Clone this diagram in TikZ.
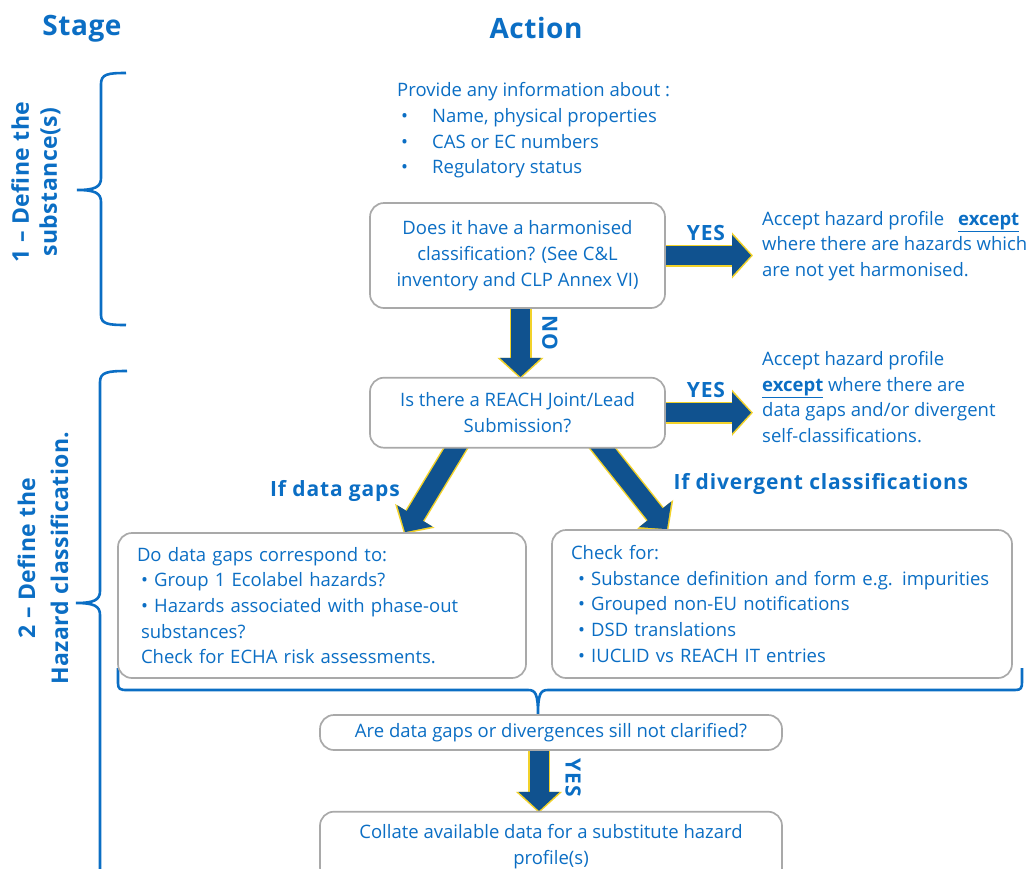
\documentclass[tikz,border=0pt]{standalone}
\usepackage{fontspec}
\setmainfont{Open Sans}
\usepackage{tikz}
\usepackage{xcolor}
\usetikzlibrary{arrows.meta}
\usetikzlibrary{positioning}
\usetikzlibrary{calc}
\usetikzlibrary{backgrounds}
\definecolor{EU Blue}{HTML}{0B6EC4}
\definecolor{Arrow Blue}{HTML}{10528F}
\definecolor{Arrow Yellow}{HTML}{F2D22A}
\definecolor{Box Gray}{HTML}{A9A9A9}

\tikzset{
    body/.style={font=\fontsize{18.5}{25.7}\selectfont, text=EU Blue},
    qbox/.style={body, draw=Box Gray, line width=1.7pt, rounded corners=14pt, fill=white, align=center},
    listbox/.style={qbox, align=left, inner xsep=19pt},
    tag/.style={font=\bfseries\fontsize{21}{24}\selectfont\addfontfeatures{LetterSpace=4}, text=EU Blue},
    head/.style={font=\bfseries\fontsize{28}{32}\selectfont\addfontfeatures{LetterSpace=2}, text=EU Blue},
    stagetext/.style={font=\bfseries\fontsize{23}{28}\selectfont\addfontfeatures{LetterSpace=2}, text=EU Blue, align=center, rotate=90},
    bigarrow/.style={line width=19pt, draw=Arrow Blue, -{Triangle[length=19pt,width=40pt]},
        preaction={draw=Arrow Yellow, line width=22pt, -{Triangle[length=21pt,width=45pt]}, shorten >=-2pt}},
    brace/.style={draw=EU Blue, line width=2.6pt}
}
\newcommand{\infobullet}{\makebox[35pt][l]{\hspace{4pt}•}}

\begin{document}
\begin{tikzpicture}[x=1pt, y=-1pt]
    \useasboundingbox (0,0) rectangle (1035,868);

    % Column headings
    \node[head] (stagehead) at (82,29) {Stage};
    \node[head] (actionhead) at (536,28) {Action};

    % Stage labels
    \node[stagetext] (stage1) at (36,182) {1 – Define the\\substance(s)};
    \node[stagetext, font=\bfseries\fontsize{23}{33}\selectfont\addfontfeatures{LetterSpace=2}] (stage2) at (43,558) {2 – Define the\\Hazard classification.};

    % Step 1
    \node[body, anchor=west, align=left, inner sep=0pt] (info) at (397,130.5) {%
        Provide any information about :\\
        \infobullet Name, physical properties\\
        \infobullet CAS or EC numbers\\
        \infobullet Regulatory status};
    \node[qbox, minimum width=295pt, minimum height=105pt] (q1) at (517.5,255.5)
        {Does it have a harmonised\\classification? (See C\&L\\inventory and CLP Annex VI)};
    \node[body, anchor=west, align=left, inner sep=0pt] (note1) at (762,246)
        {Accept hazard profile\hspace{14pt}\textbf{\underline{except}}\\where there are hazards which\\are not yet harmonised.};

    % Step 2
    \node[qbox, minimum width=295pt, minimum height=70pt, below=68pt of q1] (q2)
        {Is there a REACH Joint/Lead\\Submission?};
    \node[body, anchor=west, align=left, inner sep=0pt] (note2) at (762,397)
        {Accept hazard profile\\\textbf{\underline{except}} where there are\\data gaps and/or divergent\\self-classifications.};

    \node[listbox, text width=370pt, minimum height=145pt] (gaps) at (322,605.5) {%
        Do data gaps correspond to:\\
        \hspace*{4pt}• Group 1 Ecolabel hazards?\\
        \hspace*{4pt}• Hazards associated with phase-out\\
        \hspace*{4pt}substances?\\
        \hspace*{4pt}Check for ECHA risk assessments.};
    \node[listbox, text width=422pt, minimum height=148pt] (checks) at (782,604) {%
        Check for:\\
        \hspace*{7pt}• Substance definition and form e.g. impurities\\
        \hspace*{7pt}• Grouped non-EU notifications\\
        \hspace*{7pt}• DSD translations\\
        \hspace*{7pt}• IUCLID vs REACH IT entries};

    \node[qbox, minimum width=462pt, minimum height=35pt, inner ysep=2pt] (q5) at (551,732.5)
        {Are data gaps or divergences sill not clarified?};
    \node[qbox, minimum width=462pt, minimum height=70pt, below=60pt of q5] (q6)
        {Collate available data for a substitute hazard\\profile(s)};

    % Arrow labels
    \node[tag] (yes1) at (706,233) {YES};
    \node[tag] (yes2) at (706,390) {YES};
    \node[tag, rotate=-90] (no1) at (550,333) {NO};
    \node[tag] (gapslab) at (335,491) {If data gaps};
    \node[tag, anchor=west] (divlab) at (670,484) {If divergent classifications};
    \node[tag, rotate=-90] (yes3) at (573,778) {YES};

    % Block arrows and braces behind the boxes
    \begin{pgfonlayer}{background}
        \draw[bigarrow] (q1.east) -- ($(q1.east -| note1.west)+(-11,0)$);
        \draw[bigarrow] (q2.east) -- ($(q2.east -| note2.west)+(-11,0)$);
        \draw[bigarrow] ($(q1.south)+(3,0)$) -- ($(q2.north)+(3,0)$);
        \draw[bigarrow] ($(q2.south)+(-56,-10)$) -- ($(gaps.north)+(83,0)$);
        \draw[bigarrow] ($(q2.south)+(79,-8)$) -- ($(checks.north)+(-115,0)$);
        \draw[bigarrow] ($(q5.south)+(-12,0)$) -- ($(q6.north)+(-12,0)$);

        % Stage 1 brace
        \draw[brace] (126,73) .. controls (108,73) and (101,74) .. (101,84) -- (101,178)
            .. controls (101,187) and (95,190) .. (77,190)
            .. controls (95,190) and (101,193) .. (101,202) -- (101,315)
            .. controls (101,324) and (108,325) .. (126,325);
        % Stage 2 brace
        \draw[brace] (127,371) .. controls (108,371) and (100,372) .. (100,382) -- (100,591)
            .. controls (100,600) and (94,603) .. (76,603)
            .. controls (94,603) and (100,606) .. (100,615) -- (100,880);
        % Brace gathering both checks
        \draw[brace] (118,668) -- (118,683) .. controls (118,689) and (120,690) .. (127,690) -- (528,690)
            .. controls (535,690) and (538,693) .. (538,714)
            .. controls (538,693) and (541,690) .. (548,690) -- (1015,690)
            .. controls (1021,690) and (1022,688) .. (1022,682) -- (1022,668);
    \end{pgfonlayer}
\end{tikzpicture}
\end{document}
